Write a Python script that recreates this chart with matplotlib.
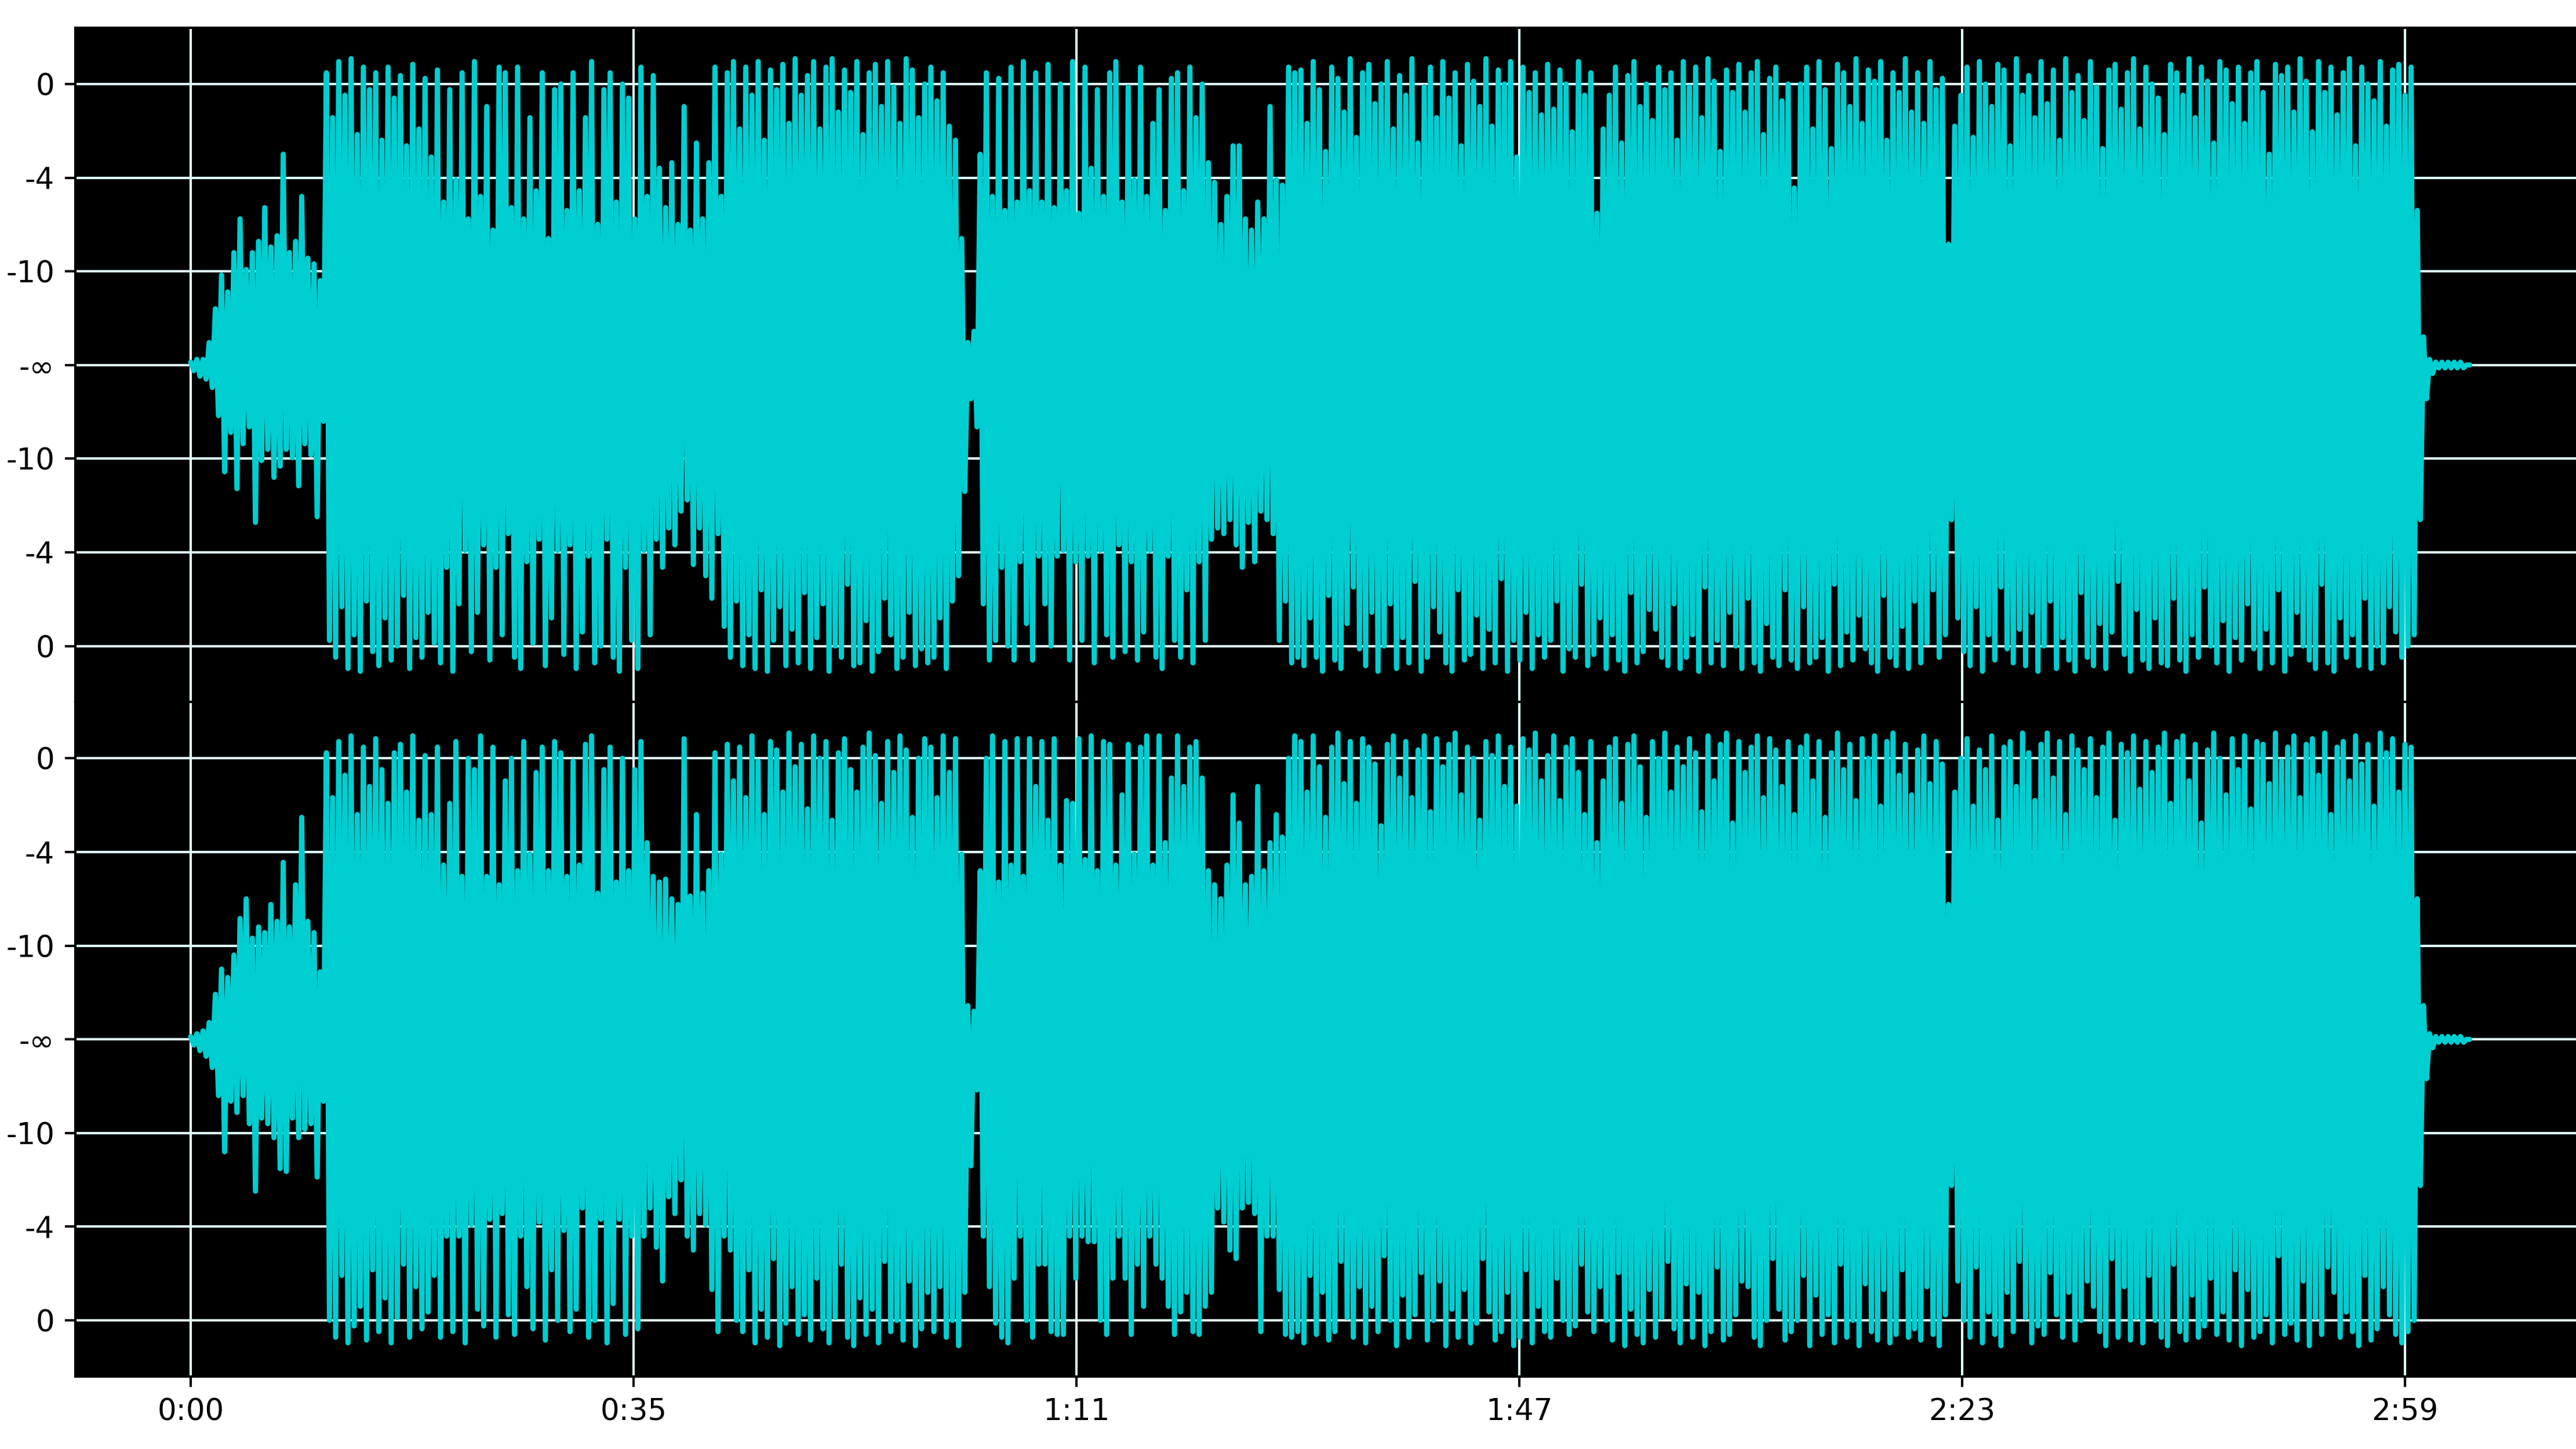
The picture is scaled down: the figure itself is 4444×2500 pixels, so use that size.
import numpy as np
import matplotlib
matplotlib.use("Agg")
import matplotlib.pyplot as plt

# ---- data: waveform peak values (amplitude x100) every 0.5 s ----
# each row = 10 seconds (20 readings); last row = 5 seconds
step = 0.5

ch1_hi = [
    1, 2, 2, 8, 20, 32, 26, 40, 52, 34, 40, 44, 56, 42, 46, 75, 40, 44, 60, 38,
    36, 30, 104, 88, 108, 96, 109, 82, 106, 98, 104, 80, 106, 95, 103, 78, 107, 84, 102, 74,
    105, 58, 98, 66, 104, 52, 108, 60, 92, 48, 106, 104, 56, 106, 52, 88, 62, 104, 45, 98,
    100, 55, 104, 62, 88, 108, 50, 98, 104, 58, 100, 95, 52, 106, 60, 103, 70, 56, 72, 50,
    92, 48, 79, 52, 72, 106, 60, 104, 108, 84, 106, 96, 108, 80, 105, 98, 107, 86, 109, 96,
    103, 108, 84, 106, 109, 90, 105, 97, 108, 82, 104, 107, 92, 108, 99, 86, 109, 105, 88, 100,
    106, 94, 104, 85, 80, 45, 8, 12, 75, 104, 60, 102, 55, 106, 58, 108, 62, 104, 58, 107,
    56, 100, 62, 108, 54, 106, 70, 98, 60, 104, 108, 58, 99, 66, 106, 60, 86, 98, 55, 102,
    104, 62, 106, 88, 100, 72, 65, 50, 60, 78, 78, 52, 48, 58, 52, 92, 66, 64, 106, 104,
    105, 86, 108, 98, 76, 106, 102, 90, 109, 81, 104, 107, 93, 100, 108, 84, 103, 96, 109, 79,
    99, 106, 88, 108, 95, 104, 78, 107, 101, 92, 109, 85, 105, 100, 108, 74, 106, 97, 104, 89,
    107, 91, 105, 100, 83, 108, 96, 104, 54, 84, 96, 106, 79, 103, 108, 92, 100, 87, 106, 98,
    104, 80, 108, 99, 106, 88, 109, 101, 76, 105, 97, 107, 90, 104, 108, 82, 102, 106, 94, 100,
    63, 100, 106, 84, 108, 98, 77, 107, 104, 92, 109, 86, 105, 101, 108, 80, 104, 97, 109, 90,
    104, 86, 108, 98, 102, 43, 85, 96, 106, 81, 108, 100, 92, 107, 105, 78, 109, 96, 103, 88,
    108, 93, 105, 80, 109, 97, 103, 87, 108, 99, 77, 105, 107, 91, 104, 109, 84, 106, 100, 95,
    82, 107, 104, 96, 109, 88, 106, 101, 79, 108, 105, 93, 106, 86, 104, 108, 97, 75, 107, 103,
    106, 90, 109, 101, 83, 108, 97, 106, 89, 104, 109, 78, 106, 100, 94, 108, 85, 105, 107, 96,
    106, 55, 10, 2, 1, 1, 1, 1, 1, 0,
]

ch1_lo = [
    -2, -4, -5, -8, -18, -38, -24, -44, -28, -22, -56, -34, -30, -40, -36, -30, -33, -43, -28, -32,
    -54, -20, -98, -104, -86, -108, -96, -109, -84, -102, -107, -90, -105, -100, -82, -108, -97, -104, -88, -99,
    -106, -72, -109, -85, -66, -102, -88, -64, -105, -72, -96, -60, -104, -108, -70, -99, -62, -107, -90, -66,
    -103, -64, -108, -95, -68, -106, -100, -62, -104, -109, -72, -98, -108, -66, -96, -62, -72, -58, -64, -52,
    -48, -71, -58, -75, -83, -60, -93, -104, -84, -107, -96, -108, -80, -109, -98, -86, -107, -94, -106, -81,
    -108, -97, -85, -109, -100, -104, -78, -107, -106, -91, -109, -102, -83, -96, -108, -104, -88, -107, -101, -106,
    -104, -90, -108, -84, -75, -45, -12, -22, -85, -105, -98, -72, -100, -105, -70, -92, -105, -68, -85, -100,
    -68, -66, -105, -70, -98, -68, -106, -66, -96, -104, -64, -102, -70, -105, -95, -66, -104, -108, -68, -98,
    -104, -80, -106, -70, -98, -62, -58, -60, -55, -64, -72, -56, -70, -52, -55, -60, -98, -84, -106, -104,
    -107, -90, -104, -109, -82, -105, -108, -92, -79, -101, -107, -88, -109, -100, -85, -108, -97, -106, -77, -109,
    -104, -86, -95, -106, -109, -80, -105, -103, -89, -108, -94, -106, -76, -109, -98, -105, -88, -108, -96, -104,
    -98, -84, -109, -101, -104, -78, -107, -103, -90, -108, -96, -105, -109, -81, -106, -102, -87, -94, -104, -107,
    -85, -108, -104, -96, -109, -79, -106, -98, -107, -88, -100, -108, -83, -106, -109, -92, -104, -107, -80, -105,
    -108, -86, -106, -104, -97, -109, -78, -107, -95, -105, -89, -101, -106, -109, -82, -104, -107, -93, -108, -84,
    -106, -99, -80, -104, -96, -55, -90, -102, -107, -86, -109, -96, -105, -79, -101, -106, -94, -107, -88, -109,
    -100, -84, -108, -97, -105, -109, -81, -104, -107, -92, -108, -95, -77, -103, -109, -87, -105, -108, -90, -106,
    -107, -83, -105, -109, -96, -104, -79, -100, -106, -91, -109, -97, -105, -85, -101, -108, -94, -106, -80, -109,
    -103, -88, -100, -105, -108, -78, -106, -109, -90, -104, -96, -107, -83, -108, -100, -106, -86, -95, -104, -100,
    -96, -55, -12, -3, -1, -1, -1, -1, -1, 0,
]

ch2_hi = [
    1, 2, 3, 6, 16, 25, 22, 30, 43, 50, 36, 40, 38, 48, 42, 63, 40, 55, 79, 42,
    38, 24, 102, 86, 106, 94, 108, 80, 104, 90, 107, 96, 84, 102, 105, 88, 108, 78, 101, 80,
    104, 62, 84, 106, 58, 100, 96, 108, 58, 104, 55, 92, 100, 60, 106, 66, 95, 104, 60, 106,
    102, 58, 99, 62, 105, 108, 52, 96, 104, 56, 100, 60, 96, 106, 70, 58, 56, 57, 50, 48,
    107, 51, 80, 52, 60, 102, 66, 105, 92, 104, 86, 108, 99, 80, 106, 103, 88, 109, 97, 105,
    82, 108, 100, 106, 78, 102, 107, 96, 88, 104, 109, 101, 84, 106, 95, 108, 103, 79, 100, 107,
    104, 86, 108, 95, 107, 66, 12, 10, 60, 100, 108, 56, 106, 62, 107, 58, 107, 90, 106, 78,
    107, 62, 85, 84, 107, 64, 108, 60, 106, 105, 62, 87, 105, 66, 104, 108, 62, 108, 70, 93,
    108, 90, 104, 106, 93, 60, 55, 50, 62, 87, 77, 55, 58, 90, 60, 70, 80, 72, 100, 108,
    106, 88, 108, 97, 79, 104, 109, 91, 106, 84, 107, 104, 98, 76, 105, 108, 93, 106, 86, 103,
    108, 81, 107, 97, 105, 109, 87, 104, 100, 78, 106, 101, 108, 90, 104, 83, 107, 103, 109, 92,
    101, 108, 85, 104, 107, 95, 80, 106, 70, 92, 104, 107, 84, 105, 108, 97, 79, 106, 100, 109,
    88, 104, 97, 107, 102, 81, 108, 92, 105, 109, 77, 106, 95, 104, 108, 86, 107, 103, 90, 106,
    80, 104, 108, 92, 106, 79, 102, 109, 96, 105, 85, 107, 100, 108, 83, 106, 109, 94, 105, 87,
    103, 108, 91, 106, 98, 48, 88, 100, 107, 83, 103, 96, 108, 78, 104, 106, 90, 109, 102, 85,
    105, 109, 93, 106, 80, 108, 103, 96, 107, 86, 104, 109, 78, 105, 102, 108, 89, 106, 95, 104,
    109, 84, 106, 108, 92, 105, 77, 103, 109, 100, 87, 107, 96, 108, 82, 106, 105, 91, 109, 99,
    104, 108, 86, 105, 107, 94, 109, 80, 104, 106, 92, 108, 98, 105, 83, 109, 102, 107, 88, 105,
    104, 50, 12, 2, 1, 1, 1, 1, 1, 0,
]

ch2_lo = [
    -2, -4, -6, -10, -20, -40, -22, -26, -20, -30, -54, -28, -30, -35, -46, -47, -28, -35, -32, -30,
    -49, -22, -100, -106, -84, -108, -102, -95, -107, -82, -104, -92, -108, -99, -80, -106, -88, -103, -97, -84,
    -106, -70, -104, -70, -108, -66, -96, -102, -64, -106, -62, -98, -105, -70, -88, -103, -65, -107, -82, -100,
    -68, -104, -96, -60, -106, -100, -64, -108, -94, -64, -105, -70, -103, -70, -60, -74, -86, -56, -62, -50,
    -70, -75, -62, -66, -89, -104, -70, -75, -100, -104, -82, -108, -96, -106, -78, -109, -101, -88, -105, -98,
    -107, -85, -103, -108, -99, -80, -106, -109, -92, -105, -96, -108, -79, -104, -100, -107, -86, -109, -103, -90,
    -104, -88, -106, -100, -109, -90, -45, -18, -70, -88, -101, -106, -108, -85, -70, -100, -106, -80, -80, -104,
    -105, -105, -70, -85, -70, -72, -72, -100, -105, -85, -70, -85, -105, -80, -95, -70, -80, -85, -95, -105,
    -97, -90, -104, -105, -95, -90, -60, -65, -75, -78, -60, -58, -62, -104, -70, -70, -89, -105, -106, -104,
    -108, -84, -105, -90, -107, -104, -79, -99, -106, -88, -108, -95, -104, -77, -100, -109, -91, -106, -98, -83,
    -107, -100, -86, -109, -96, -106, -89, -108, -101, -78, -97, -107, -104, -90, -109, -106, -82, -108, -95, -104,
    -106, -85, -100, -105, -102, -80, -97, -104, -88, -100, -107, -83, -109, -96, -105, -108, -89, -106, -99, -79,
    -103, -108, -87, -106, -90, -109, -104, -81, -107, -105, -98, -86, -88, -106, -109, -100, -78, -96, -107, -104,
    -100, -84, -109, -91, -105, -98, -108, -80, -106, -100, -109, -87, -104, -107, -89, -108, -105, -82, -106, -103,
    -107, -88, -105, -109, -98, -52, -86, -100, -106, -81, -108, -97, -105, -109, -90, -104, -79, -99, -108, -102,
    -105, -83, -98, -106, -90, -107, -100, -86, -95, -104, -109, -78, -106, -88, -107, -99, -108, -84, -100, -106,
    -109, -80, -104, -107, -91, -106, -102, -85, -105, -97, -107, -82, -109, -89, -106, -104, -98, -108, -77, -105,
    -101, -107, -86, -109, -99, -105, -81, -90, -106, -97, -104, -109, -84, -107, -103, -88, -98, -105, -108, -104,
    -100, -52, -14, -3, -1, -1, -1, -1, -1, 0,
]

x_tick_seconds = [0, 35.9, 71.8, 107.7, 143.6, 179.5]
x_tick_labels = ["0:00", "0:35", "1:11", "1:47", "2:23", "2:59"]
y_tick_values = [1, 2 / 3, 1 / 3, 0, -1 / 3, -2 / 3, -1]
y_tick_labels = ["0", "-4", "-10", "-\u221e", "-10", "-4", "0"]

WAVE_COLOR = "#00CED1"
GRID_COLOR = "#E0FFFF"


def trace(hi, lo):
    n = min(len(hi), len(lo))
    t = np.arange(n) * step
    xs = np.empty(2 * n)
    ys = np.empty(2 * n)
    xs[0::2] = t
    xs[1::2] = t + step / 2
    ys[0::2] = np.asarray(hi[:n], dtype=float) / 100.0
    ys[1::2] = np.asarray(lo[:n], dtype=float) / 100.0
    return xs, ys


W, H = 4444.0, 2500.0
fig = plt.figure(figsize=(12, 6.75), dpi=370.371)
fig.patch.set_facecolor("white")

left = 130 / W
width = 4377 / W
ax_h = 1163.5 / H
ax1 = fig.add_axes([left, 1 - (48 + 1163.5) / H, width, ax_h])
ax2 = fig.add_axes([left, 125 / H, width, ax_h])

for ax, (hi, lo) in ((ax1, (ch1_hi, ch1_lo)), (ax2, (ch2_hi, ch2_lo))):
    ax.set_facecolor("black")
    xs, ys = trace(hi, lo)
    ax.plot(xs, ys, color=WAVE_COLOR, lw=1.75, solid_joinstyle="round",
            solid_capstyle="round", zorder=2)
    ax.set_xlim(-9.35, 196.35)
    ax.set_ylim(-1.2, 1.2)
    ax.set_axisbelow(True)
    ax.grid(True, color=GRID_COLOR, lw=0.8)
    ax.set_yticks(y_tick_values)
    ax.set_yticklabels(y_tick_labels)
    ax.set_xticks(x_tick_seconds)
    ax.set_xticklabels(x_tick_labels)
    ax.tick_params(labelsize=10)
    for sp in ax.spines.values():
        sp.set_color("black")

ax1.tick_params(labelbottom=False)

fig.savefig("out.png", dpi=370.371, facecolor="white")
